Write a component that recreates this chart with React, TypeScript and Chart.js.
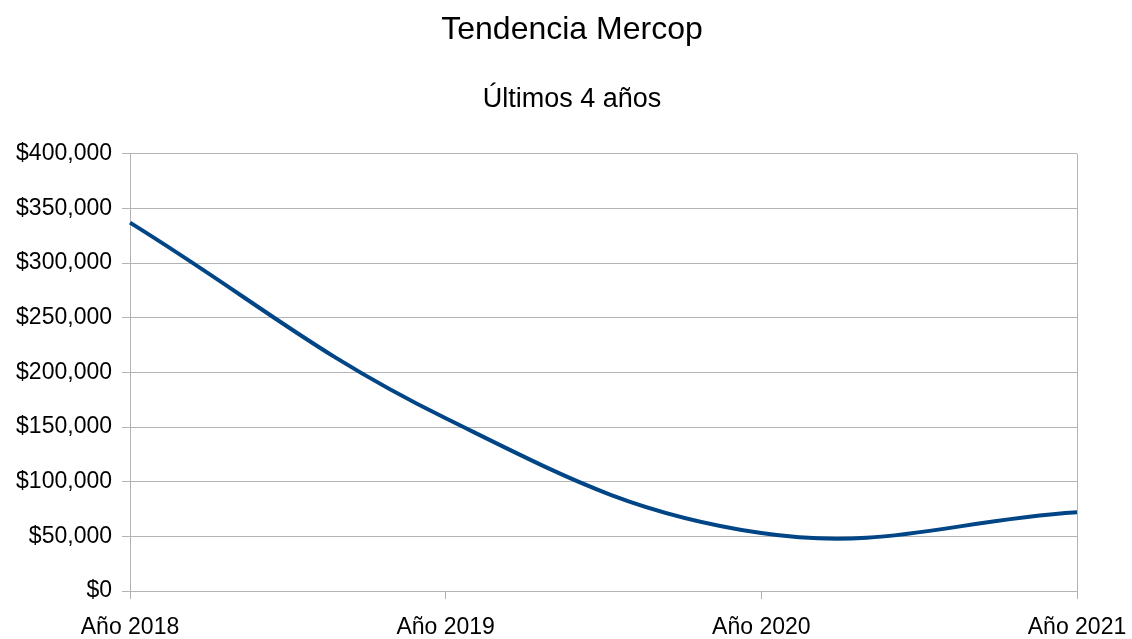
import React, { useEffect, useRef } from "react";
import { Chart, registerables } from "chart.js";

Chart.register(...registerables);

const categories = ["Año 2018", "Año 2019", "Año 2020", "Año 2021"];
const values = [337000, 158000, 53000, 72000];
const titleText = "Tendencia Mercop";
const subtitleText = "Últimos 4 años";
const yMin = 0;
const yMax = 400000;
const yStep = 50000;

const GRID = "#b3b3b3";
const FONT = "'Liberation Sans', Arial, sans-serif";

export default function App() {
  const ref = useRef<HTMLCanvasElement | null>(null);
  useEffect(() => {
    if (!ref.current) return;
    const chart = new Chart(ref.current, {
      type: "line",
      data: {
        labels: categories,
        datasets: [
          {
            data: values,
            borderColor: "#004586",
            backgroundColor: "#004586",
            borderWidth: 4,
            pointRadius: 0,
            tension: 0.4,
            fill: false,
          },
        ],
      },
      options: {
        animation: false,
        responsive: false,
        maintainAspectRatio: false,
        layout: { padding: { left: 12, right: 0, top: 0, bottom: 0 } },
        plugins: {
          legend: { display: false },
          tooltip: { enabled: false },
          title: {
            display: true,
            text: titleText,
            color: "#000",
            font: { family: FONT, size: 32, weight: "normal" },
            padding: { top: 11, bottom: 0 },
          },
          subtitle: {
            display: true,
            text: subtitleText,
            color: "#000",
            font: { family: FONT, size: 27, weight: "normal" },
            padding: { top: 34, bottom: 38 },
          },
        },
        scales: {
          x: {
            offset: false,
            grid: {
              color: (ctx: any) =>
                ctx.index === 0 || ctx.index === categories.length - 1 ? GRID : "rgba(0,0,0,0)",
              tickColor: GRID,
              tickLength: 8,
              lineWidth: 1,
            },
            border: { display: false },
            ticks: {
              color: "#000",
              font: { family: FONT, size: 23 },
              padding: 15,
              maxRotation: 0,
              autoSkip: false,
            },
            afterFit: (scale: any) => {
              scale.paddingLeft = 0;
              scale.paddingRight = 55;
              scale.height = 48;
            },
          },
          y: {
            min: yMin,
            max: yMax,
            grid: { color: GRID, tickColor: GRID, tickLength: 8, lineWidth: 1 },
            border: { display: true, color: GRID, width: 1 },
            ticks: {
              stepSize: yStep,
              color: "#000",
              font: { family: FONT, size: 23 },
              padding: 10,
              callback: (v: any) => "$" + Number(v).toLocaleString("en-US"),
            },
            afterFit: (scale: any) => {
              scale.width = 118;
            },
          },
        },
      },
    });
    return () => chart.destroy();
  }, []);
  return (
    <div style={{ position: "fixed", left: 0, top: 0, width: 1132, height: 639, background: "#fff" }}>
      <canvas ref={ref} width={1132} height={639} style={{ width: 1132, height: 639 }} />
    </div>
  );
}
